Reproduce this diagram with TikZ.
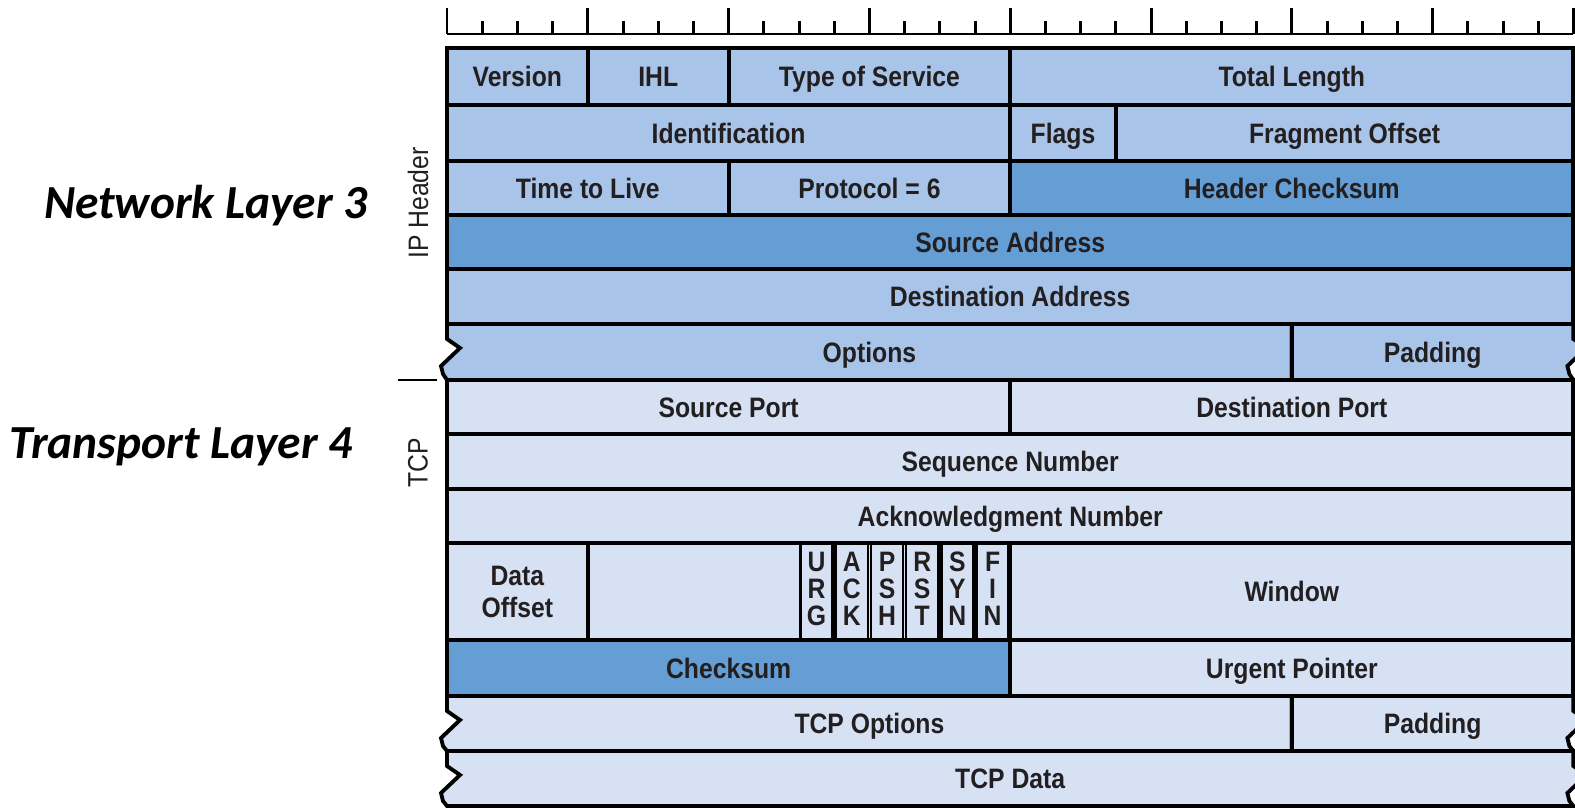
\documentclass[tikz,border=0pt]{standalone}
\usepackage{fontspec}
\newfontfamily\fieldfont[FakeStretch=0.88]{Liberation Sans}
\newfontfamily\layerfont{Carlito}

\definecolor{iplight}{RGB}{168,196,232}
\definecolor{ipdark}{RGB}{101,158,213}
\definecolor{tcplight}{RGB}{214,226,244}
\definecolor{ink}{RGB}{35,31,32}

% bit number -> x (px)
\newcommand{\bx}[1]{447+35.2*(#1)}
% \field{name}{from bit}{to bit}{top}{bottom}{fill}{text}
\newcommand{\field}[7]{%
  \draw[cell,fill=#6] ({\bx{#2}},#4) rectangle ({\bx{#3}},#5);
  \node[lbl] (#1) at ({\bx{(#2+#3)/2}},{(#4+#5)/2+10}) {#7};
}

\begin{document}
\begin{tikzpicture}[x=0.02cm,y=-0.02cm,
  cell/.style={draw=black,line width=2.2pt},
  flagbox/.style={draw=black,line width=1.5pt,fill=tcplight},
  rim/.style={black,line width=1.7pt},
  lbl/.style={anchor=base,text=ink,inner sep=0pt,font=\fieldfont\bfseries\fontsize{16}{18}\selectfont},
  twoline/.style={align=center,text=ink,inner sep=0pt,font=\fieldfont\bfseries\fontsize{16}{18.7}\selectfont},
  flag/.style={align=center,text=ink,inner sep=0pt,font=\fieldfont\bfseries\fontsize{16}{15.3}\selectfont},
  side/.style={text=ink,inner sep=0pt,font=\fieldfont\fontsize{16}{18}\selectfont},
  layer/.style={anchor=base,inner sep=0pt,font=\layerfont\bfseries\itshape\fontsize{27}{30}\selectfont},
  torndown/.style={insert path={-- ++(0,15) -- ++(13,9) -- ++(-19,18) -- ++(2,8)}},
  tornup/.style={insert path={-- ++(-4,-5) -- ++(-2,-8) -- ++(19,-18) -- ++(-13,-9)}}]
\useasboundingbox (0,0) rectangle (1575,808);
%
% IP header
	\field{version}{0}{4}{48}{105}{iplight}{Version}
	\field{ihl}{4}{8}{48}{105}{iplight}{IHL}
	\field{tos}{8}{16}{48}{105}{iplight}{Type of Service}
	\field{totlen}{16}{32}{48}{105}{iplight}{Total Length}
	\field{ident}{0}{16}{105}{161}{iplight}{Identification}
	\field{ipflags}{16}{19}{105}{161}{iplight}{Flags}
	\field{fragoff}{19}{32}{105}{161}{iplight}{Fragment Offset}
	\field{ttl}{0}{8}{161}{215}{iplight}{Time to Live}
	\field{proto}{8}{16}{161}{215}{iplight}{Protocol = 6}
	\field{hdrsum}{16}{32}{161}{215}{ipdark}{Header Checksum}
	\field{srcaddr}{0}{32}{215}{269}{ipdark}{Source Address}
	\field{dstaddr}{0}{32}{269}{324}{iplight}{Destination Address}
	\draw[cell,fill=iplight] ({\bx{24}},324) -- ({\bx{0}},324) [torndown] -- ({\bx{0}},380) -- ({\bx{24}},380) -- cycle;
	\draw[cell,fill=iplight] ({\bx{24}},324) -- ({\bx{32}},324) [torndown] -- ({\bx{32}},380) -- ({\bx{24}},380) -- cycle;
	\node[lbl] (ipopt) at ({\bx{12}},362) {Options};
	\node[lbl] (ippad) at ({\bx{28}},362) {Padding};
%
% TCP header
	\field{srcport}{0}{16}{380}{434}{tcplight}{Source Port}
	\field{dstport}{16}{32}{380}{434}{tcplight}{Destination Port}
	\field{seqnum}{0}{32}{434}{489}{tcplight}{Sequence Number}
	\field{acknum}{0}{32}{489}{543}{tcplight}{Acknowledgment Number}
	\draw[cell,fill=tcplight] ({\bx{0}},543) rectangle ({\bx{4}},640);
	\draw[cell,fill=tcplight] ({\bx{4}},543) rectangle ({\bx{16}},640);
	\node[twoline] (dataoff) at ({\bx{2}},592) {Data\\Offset};
	\foreach \n/\f [count=\i from 10] in {urg/{U\\R\\G},ack/{A\\C\\K},psh/{P\\S\\H},rst/{R\\S\\T},syn/{S\\Y\\N},fin/{F\\I\\N}} {
		\draw[flagbox] ({\bx{\i}+1.5},544) rectangle ({\bx{\i+1}-1.5},639);
		\node[flag] (\n) at ({\bx{\i+0.5}},589) {\f};
	}
	\field{window}{16}{32}{543}{640}{tcplight}{Window}
	\field{checksum}{0}{16}{640}{696}{ipdark}{Checksum}
	\field{urgptr}{16}{32}{640}{696}{tcplight}{Urgent Pointer}
	\draw[cell,fill=tcplight] ({\bx{24}},696) -- ({\bx{0}},696) [torndown] -- ({\bx{0}},751) -- ({\bx{24}},751) -- cycle;
	\draw[cell,fill=tcplight] ({\bx{24}},696) -- ({\bx{32}},696) [torndown] -- ({\bx{32}},751) -- ({\bx{24}},751) -- cycle;
	\node[lbl] (tcpopt) at ({\bx{12}},733.5) {TCP Options};
	\node[lbl] (tcppad) at ({\bx{28}},733.5) {Padding};
	\draw[cell,fill=tcplight] ({\bx{0}},751) [torndown] -- ({\bx{0}},806) -- ({\bx{32}},806) [tornup] -- ({\bx{32}},751) -- cycle;
	\node[lbl] (tcpdata) at ({\bx{16}},788.5) {TCP Data};
%
% bit ruler
	\draw[rim] ({\bx{0}},34) -- ({\bx{32}},34);
	\foreach \b in {1,...,31} \draw[rim] ({\bx{\b}},34) -- ({\bx{\b}},21);
	\foreach \b in {0,4,...,32} \draw[rim] ({\bx{\b}},34) -- ({\bx{\b}},8);
%
% side labels
	\node[side,rotate=90] (iphead) at (418,203) {IP Header};
	\node[side,rotate=90] (tcphead) at (418,463) {TCP};
	\draw[rim] (398,380) -- (437,380);
	\node[layer] (netlayer) at (206,218) {Network Layer 3};
	\node[layer] (translayer) at (181,458) {Transport Layer 4};
\end{tikzpicture}
\end{document}
